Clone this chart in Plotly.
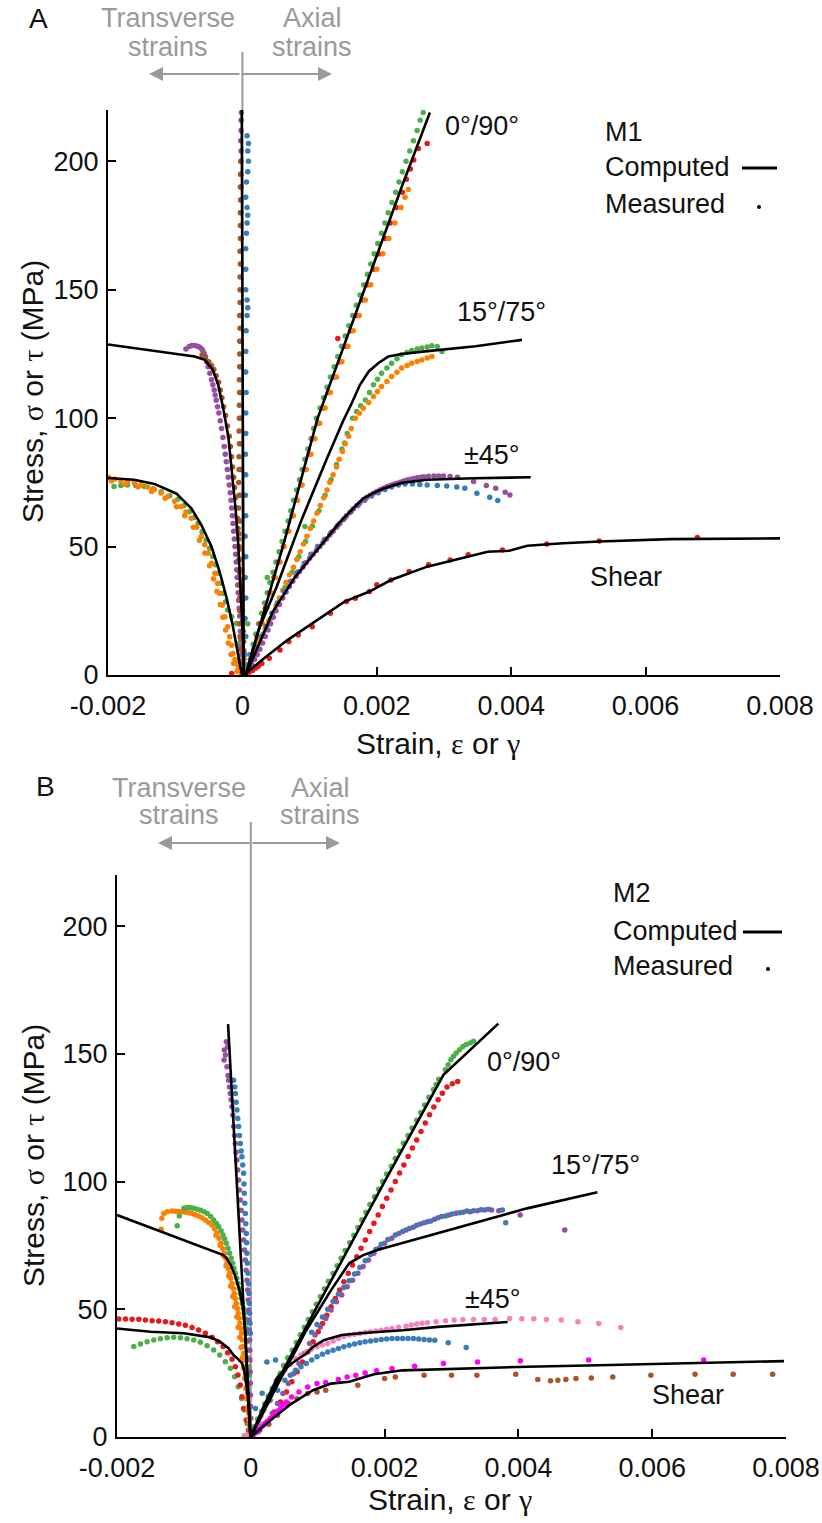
import plotly.graph_objects as go

W, H = 822, 1523
# Units: strain in millistrain (x 1e-3), stress in MPa.  Each series: list of (strain, stress)

# ---------------- Panel A (M1) ----------------
A_CALC_090 = [(0.05,0),(0.63,52.6),(1.12,100),(1.55,131),(1.96,160),(2.37,190),(2.79,219)]
A_CALC_1575 = [(0.05,0),(0.24,17.5),(0.51,34.4),(0.88,60.4),(1.25,83.8),(1.5,99),(1.63,106),(1.75,113),(1.88,118.2),
               (2.02,121.4),(2.17,124),(2.37,125),(2.72,126),(3.47,128),(4.16,130.5)]
A_CALC_45 = [(0.05,0),(0.21,10),(0.46,25),(0.78,38),(1.15,50),(1.45,59.5),(1.73,67),(1.8,68.8),(2.0,71.5),(2.1,72.6),
             (2.37,74.8),(2.75,76),(3.44,76.6),(4.29,77)]
A_CALC_SHEAR = [(0.0,0),(0.05,0.6),(0.29,5.8),(0.51,10.4),(0.67,13.6),(1.04,20.1),(1.52,28.6),(1.89,32.5),(2.21,37),
                (2.75,42.2),(3.17,45),(3.65,48),(3.97,48.4),(4.24,50.3),(4.77,51.3),(5.31,52),(6.37,52.9),(8.0,53.2)]
A_CALC_T1575 = [(-2.0,128.7),(-0.71,124),(-0.56,122.7),(-0.44,118.8),(-0.36,113),(-0.29,104.5),(-0.21,92.9),(-0.15,78.6),
                (-0.1,64.3),(-0.06,50),(-0.03,37),(-0.01,24),(0.01,12.3),(0.02,1.3)]
A_CALC_T45 = [(-2.0,76.7),(-1.61,76),(-1.31,74.4),(-1.06,71.4),(-0.98,70.6),(-0.91,68.8),(-0.76,64.9),(-0.61,58.4),
              (-0.46,50),(-0.34,40.3),(-0.24,30.5),(-0.15,20.1),(-0.09,11),(-0.04,4.5),(-0.01,0.6),(0.0,0)]
A_CALC_T090 = [(0.02,0),(-0.01,220)]

A_090_GREEN = [(0.07,4),(0.12,8),(0.16,12),(0.2,16),(0.24,20),(0.285,24),(0.33,28),(0.37,32),(0.41,36),(0.455,40),
               (0.5,44),(0.545,48),(0.59,52),(0.635,56),(0.68,60),(0.72,64),(0.76,68),(0.805,72),(0.85,76),(0.89,80),
               (0.93,84),(0.975,88),(1.02,92),(1.06,96),(1.1,100),(1.155,104),(1.21,108),(1.26,112),(1.31,116),(1.365,120),
               (1.42,124),(1.475,128),(1.53,132),(1.585,136),(1.64,140),(1.695,144),(1.75,148),(1.805,152),(1.86,156),
               (1.91,160),(1.96,164),(2.015,168),(2.07,172),(2.12,176),(2.17,180),(2.225,184),(2.28,188),(2.33,192),
               (2.38,196),(2.435,200),(2.49,204),(2.545,208),(2.6,212),(2.645,216),(2.69,219),(0.37,38),(0.08,20)]
A_090_RED = [(0.08,2),(0.12,6),(0.17,10),(0.22,15),(0.27,20),(0.34,26),(0.41,32),(0.47,38),(0.54,44),(0.61,50),
             (0.68,56),(0.74,62),(0.81,68),(0.87,74),(0.93,80),(0.99,86),(1.05,92),(1.12,98),(1.2,104),(1.28,110),
             (1.36,116),(1.45,122),(1.53,128),(1.61,134),(1.69,140),(1.78,146),(1.86,152),(1.95,158),(2.03,164),
             (2.12,170),(2.2,176),(2.29,182),(2.38,188),(2.44,193),(2.5,197),(2.55,200.5),(2.62,205),(2.75,207),(1.42,131)]
A_090_ORANGE = [(0.12,3),(0.17,8),(0.23,14),(0.3,20),(0.36,26),(0.43,32),(0.49,38),(0.56,44),(0.62,50),(0.69,56),
                (0.76,62),(0.82,68),(0.89,74),(0.95,80),(1.02,86),(1.08,92),(1.15,98),(1.23,104),(1.31,110),(1.4,116),
                (1.48,122),(1.57,128),(1.65,134),(1.74,140),(1.83,146),(1.91,152),(2.0,158),(2.09,164),(2.18,170),
                (2.27,176),(2.36,182),(2.42,186),(2.47,189)]
A_1575_GREEN = [(0.12,5),(0.21,10),(0.31,16),(0.42,22),(0.53,28),(0.63,34),(0.74,40),(0.84,46),(0.94,52),(1.04,58),
                (1.14,64),(1.23,70),(1.32,76),(1.4,82),(1.48,88),(1.56,94),(1.64,100),(1.7,102.6),(1.76,104.8),
                (1.83,107.1),(1.89,110),(1.95,113),(2.01,115.2),(2.07,117.5),(2.15,119.5),(2.22,121.4),(2.3,123.1),
                (2.37,124.7),(2.45,125.6),(2.52,126.4),(2.6,126.9),(2.67,127.3),(2.75,127.7),(2.82,128.2),(2.9,127.9),
                (2.97,126),(0.93,57.8),(1.52,90.3)]
A_1575_ORANGE = [(0.08,3),(0.15,7),(0.24,12),(0.29,15),(0.34,18),(0.39,21),(0.445,24),(0.5,27),(0.55,30),(0.6,33),
                 (0.65,36),(0.7,39),(0.76,42),(0.81,45),(0.86,48),(0.91,51),(0.96,54),(1.01,57),(1.06,60),(1.11,63),
                 (1.16,66),(1.21,69),(1.26,72),(1.3,75),(1.35,78),(1.4,81),(1.44,84),(1.49,87),(1.53,90),(1.58,93),
                 (1.62,96),(1.68,100),(1.74,101.9),(1.8,103.9),(1.88,106.1),(1.95,108.4),(2.01,110.4),(2.07,112.3),
                 (2.15,114.3),(2.22,116.2),(2.3,117.9),(2.37,119.5),(2.45,120.5),(2.52,121.4),(2.6,122.1),(2.67,122.7),
                 (2.75,123.4),(2.82,124)]
A_45_PURPLE = [(0.1,2),(0.14,4),(0.18,6),(0.22,8),(0.26,10),(0.3,12.5),(0.34,15),(0.38,17.5),(0.42,20),(0.46,22.5),
               (0.5,25),(0.55,27.5),(0.6,30),(0.65,32.3),(0.7,34.5),(0.75,36.5),(0.8,38.5),(0.85,40.3),(0.9,42),
               (0.95,43.8),(1.0,45.5),(1.05,47),(1.1,48.5),(1.15,50),(1.2,51.5),(1.25,53),(1.3,54.5),(1.35,56),
               (1.4,57.5),(1.45,59),(1.5,60.5),(1.55,62),(1.6,63.3),(1.65,64.7),(1.7,66),(1.75,67.1),(1.8,68.2),
               (1.85,69.1),(1.9,70),(1.95,70.8),(2.0,71.5),(2.05,72.1),(2.1,72.7),(2.15,73.3),(2.2,73.8),(2.25,74.3),
               (2.3,74.7),(2.35,75.1),(2.4,75.5),(2.45,75.9),(2.5,76.2),(2.55,76.5),(2.6,76.8),(2.65,77),(2.7,77.2),
               (2.77,77.4),(2.85,77.5),(2.92,77.5),(2.99,77.5),(3.09,77.3),(3.2,77),(3.44,75.3),(3.63,73.8),(3.77,72.7),
               (3.91,71.2),(3.98,70.1)]
A_45_BLUE = [(0.06,4),(0.12,8),(0.2,11),(0.28,15),(0.36,19),(0.44,24),(0.52,28),(0.62,32.5),(0.72,36.5),(0.82,40),
             (0.92,43.5),(1.02,47),(1.12,50),(1.22,52.8),(1.32,55.5),(1.42,58.3),(1.52,61),(1.62,63.7),(1.72,66),
             (1.82,68),(1.92,69.7),(2.02,71),(2.12,72.2),(2.22,73.2),(2.32,74),(2.42,74.4),(2.53,74.4),(2.64,74.2),
             (2.75,74),(2.9,73.8),(3.04,73.6),(3.19,73.2),(3.31,72.7),(3.49,70.8),(3.68,69.2),(3.8,67.9)]
A_SHEAR_RED = [(-0.16,0.6),(0.02,0.2),(0.06,0.6),(0.1,1.1),(0.15,1.8),(0.2,2.7),(0.24,3.5),(0.29,4.5),(0.4,6.5),
               (0.56,9.7),(0.69,13),(0.83,15.6),(1.04,18.8),(1.31,24),(1.55,28.6),(1.68,29.9),(1.89,32.5),(2.0,35.1),
               (2.21,37),(2.48,40.3),(2.77,42.9),(3.09,44.8),(3.36,46.8),(3.87,48.7),(4.53,51),(5.31,52.2),(6.77,53.5)]
A_T1575_PURPLE = [(-0.84,126.9),(-0.79,127.9),(-0.75,128.3),(-0.71,128.3),(-0.67,128),(-0.64,127.7),(-0.61,127),
                  (-0.59,126.4),(-0.57,125.2),(-0.55,124),(-0.53,122),(-0.51,120),(-0.485,117.5),(-0.46,115),(-0.44,113),
                  (-0.42,111),(-0.405,109),(-0.39,107),(-0.37,104.5),(-0.35,102),(-0.33,99),(-0.31,96),(-0.29,92.5),
                  (-0.27,89),(-0.255,86),(-0.24,83),(-0.225,80),(-0.21,77),(-0.195,74),(-0.18,71),(-0.17,68),(-0.16,65),
                  (-0.15,62),(-0.14,59),(-0.13,56),(-0.12,53),(-0.11,50),(-0.1,47),(-0.092,44),(-0.085,41),(-0.078,38),
                  (-0.07,35),(-0.062,32),(-0.055,29),(-0.048,26),(-0.04,23),(-0.035,20),(-0.03,17),(-0.025,14),
                  (-0.02,11),(-0.015,8),(-0.01,5),(0.0,1)]
A_T1575_BROWN = [(-0.6,124.6),(-0.55,123.3),(-0.5,122),(-0.46,120.5),(-0.425,119),(-0.39,116.5),(-0.355,114),(-0.33,111),
                 (-0.305,108),(-0.28,104.5),(-0.25,101),(-0.222,97),(-0.195,93),(-0.178,89),(-0.162,85),(-0.146,81),
                 (-0.13,77),(-0.116,73),(-0.102,69),(-0.089,65),(-0.076,61),(-0.065,57),(-0.054,53),(-0.044,49),
                 (-0.034,45),(-0.025,41),(-0.017,37),(-0.011,33),(-0.005,29),(0.0,25),(0.006,21),(0.012,17),(0.018,13),
                 (0.02,9.5),(0.022,6)]
A_T45_ORANGE = [(-1.99,77),(-1.9,76.3),(-1.81,75.7),(-1.71,75.3),(-1.61,74.9),(-1.51,74.1),(-1.41,73.2),(-1.31,72.2),
                (-1.21,70.9),(-1.11,69.5),(-1.01,67.7),(-0.91,65.6),(-0.84,63.5),(-0.76,61),(-0.68,57.5),(-0.61,53.9),
                (-0.56,50.7),(-0.51,47.4),(-0.46,43.5),(-0.41,39.6),(-0.37,35.7),(-0.34,31.8),(-0.3,27.2),(-0.26,22.7),
                (-0.22,18.8),(-0.19,14.9),(-0.16,11.6),(-0.14,8.4),(-0.11,6),(-0.09,4.5),(-0.06,2.8),(-0.04,1.9),
                (-0.02,0.8),(-1.95,75.5),(-1.75,74.3),(-1.55,73.2),(-1.35,71.5),(-1.15,68.8),(-0.98,65.5),(-0.86,62),
                (-0.73,57.5),(-0.64,52.5),(-0.56,47.5),(-0.49,42.5),(-0.43,37.5),(-0.38,32.5),(-0.33,27.5),(-0.29,22.5),
                (-0.25,17.5),(-0.21,12.5),(-0.17,8),(-0.13,4.5),(-0.08,1.5)]
A_T45_GREEN = [(-1.91,73.4),(-1.81,73.8),(-1.71,74),(-1.59,73.8),(-1.46,73.4),(-1.33,72.5),(-1.21,71.4),(-1.08,69.8),
               (-0.96,68.4),(-0.87,66),(-0.79,63.6),(-0.72,61.3),(-0.66,59.1),(-0.6,55.8),(-0.54,52.6),(-0.49,49.4),
               (-0.44,46.1),(-0.4,42.9),(-0.36,39.6),(-0.32,35.7),(-0.29,31.8),(-0.25,28.5),(-0.22,25.3),(-0.16,22.7),
               (-0.09,20.1),(-0.06,12.3),(-0.04,5.8)]
A_T090_PURPLE = [(-0.02,60),(-0.02,70),(-0.025,80),(-0.025,90),(-0.025,100),(-0.03,110),(-0.03,120),(-0.025,130),
                 (-0.03,140),(-0.025,150),(-0.02,160),(-0.025,165),(-0.02,170),(-0.025,175),(-0.02,180),(-0.025,185),
                 (-0.02,190),(-0.025,195),(-0.02,200),(-0.02,204),(-0.025,208),(-0.02,212),(-0.02,216),(-0.015,219)]
A_T090_BROWN = [(-0.03,5),(-0.035,10),(-0.035,15),(-0.04,20),(-0.04,25),(-0.04,30),(-0.045,35),(-0.045,40),(-0.05,45),
                (-0.05,50),(-0.05,55),(-0.055,60),(-0.055,65),(-0.05,70),(-0.055,75),(-0.05,80),(-0.05,85),(-0.045,90),
                (-0.05,95),(-0.045,100),(-0.045,105),(-0.04,110),(-0.045,115),(-0.04,120),(-0.04,125),(-0.04,130),
                (-0.035,135),(-0.04,140),(-0.035,145),(-0.035,150),(-0.035,155),(-0.03,160),(-0.035,165),(-0.03,170),
                (-0.03,175),(-0.03,180),(-0.025,185),(-0.03,190),(-0.025,195),(-0.025,200)]
A_T090_BLUE = [(0.05,2),(0.04,8),(0.05,15),(0.04,22),(0.05,30),(0.04,38),(0.05,46),(0.04,54),(0.05,62),(0.045,70),
               (0.05,78),(0.045,86),(0.05,94),(0.05,102),(0.055,110),(0.05,118),(0.05,126),(0.055,134),(0.07,140),
               (0.08,143),(0.07,146),(0.05,150),(0.05,158),(0.05,166),(0.06,172),(0.07,176),(0.08,179),(0.07,182),
               (0.05,186),(0.06,192),(0.08,196),(0.09,200),(0.08,204),(0.09,207),(0.07,210)]

# ---------------- Panel B (M2) ----------------
B_CALC_090 = [(0,0),(0.3,17),(1.0,51.5),(2.0,100),(2.88,141.8),(3.17,149),(3.7,161.8)]
B_CALC_1575 = [(0,0),(0.4,20.5),(0.83,41.8),(1.2,57.5),(1.47,68),(1.68,71.2),(1.89,73.2),(2.53,77.8),(3.07,81.7),
               (3.6,85.6),(4.13,89.5),(5.18,95.8)]
B_CALC_45 = [(0,0),(0.19,11.8),(0.4,23.5),(0.61,28.8),(0.83,32.7),(0.93,35.3),(1.09,37.9),(1.36,39.9),(1.73,40.8),
             (2.27,41.8),(2.8,43.1),(3.33,44.2),(3.84,45)]
B_CALC_SHEAR = [(0,0),(0.29,6.5),(0.61,13.1),(0.93,18.3),(1.2,20.9),(1.47,21.6),(1.63,22.9),(1.84,24.6),(2.27,26.1),
                (3.07,26.8),(4.13,27.5),(5.2,28.1),(6.27,28.8),(7.97,29.7)]
B_CALC_T090 = [(0,0),(-0.34,161.6)]
B_CALC_T1575 = [(-2.0,86.9),(-0.41,71.2),(-0.36,69.9),(-0.3,67.3),(-0.23,62.8),(-0.17,57.5),(-0.12,51),(-0.08,40.6),
                (-0.06,27.5),(-0.04,14.5),(-0.01,1.4),(0,0)]
B_CALC_T45 = [(-2.0,42.5),(-1.5,41.2),(-1.0,40.6),(-0.6,39),(-0.46,37.3),(-0.33,34.7),(-0.26,32.1),(-0.2,30.8),
              (-0.13,28.8),(-0.1,26.2),(-0.07,21),(-0.04,14.5),(-0.01,1.4),(0,0)]

B_090_GREEN = [(0.05,4),(0.1,7),(0.16,10),(0.21,13),(0.26,16),(0.32,19),(0.38,22),(0.44,25),(0.49,28),(0.55,31),
               (0.62,34),(0.68,37),(0.74,40),(0.8,43),(0.86,46),(0.92,49),(0.98,52),(1.04,55),(1.1,58),(1.16,61),
               (1.23,64),(1.29,67),(1.35,70),(1.41,73),(1.48,76),(1.54,79),(1.6,82),(1.66,85),(1.72,88),(1.78,91),
               (1.85,94),(1.91,97),(1.97,100),(2.03,103),(2.1,106),(2.16,109),(2.22,112),(2.28,115),(2.35,118),
               (2.41,121),(2.48,124),(2.54,127),(2.6,130),(2.66,133),(2.73,136),(2.77,138),(2.81,140),(2.91,143.8),
               (2.95,145.7),(2.99,147.7),(3.03,149),(3.07,150.3),(3.12,151.6),(3.17,152.9),(3.22,153.6),(3.28,154.2),
               (3.33,154.9)]
B_090_RED = [(3.093,139.2),(3.013,138.3),(2.933,137.0),(2.864,134.6),(2.8,132.0),(2.736,129.2),(2.672,126.1),
             (2.608,122.9),(2.544,119.6),(2.48,116.3),(2.416,113.1),(2.352,109.8),(2.288,106.5),(2.224,103.3),
             (2.16,100.0),(2.096,96.7),(2.032,93.5),(1.968,90.2),(1.904,86.9),(1.84,83.7),(1.776,80.4),(1.712,77.1),
             (1.648,73.9),(1.584,70.6),(1.52,67.3),(1.456,64.1),(1.392,60.8),(1.328,57.5),(1.264,54.2),(1.2,51.0),
             (1.136,47.7),(1.072,44.4),(1.008,41.2),(0.933,37.3),(0.853,33.3),(0.773,29.4),(0.693,25.5),(0.613,21.6),
             (0.533,17.6),(0.443,13.7),(0.347,9.8),(0.24,5.9),(0.133,2.6)]
B_1575_PURPLE = [(3.707,88.6),(3.6,88.9),(3.493,88.9),(3.387,88.6),(3.28,88.2),(3.173,88),(3.067,87.6),(2.96,86.9),
                 (2.853,86.3),(2.747,85.2),(2.64,84.3),(2.533,83.4),(2.427,82.1),(2.32,81),(2.213,79.7),(2.107,77.8),
                 (2.0,75.8),(1.92,73.9),(1.84,71.9),(1.76,69.3),(1.68,66.7),(1.6,64.1),(1.52,61.4),(1.44,58.8),
                 (1.36,55.6),(1.28,52.9),(1.2,49.7),(1.12,46.4),(1.04,43.1),(0.96,39.9),(0.88,36.6),(0.8,32.7),
                 (0.72,28.8),(0.64,24.8),(0.56,20.9),(0.48,17),(0.4,13.1),(0.32,9.2),(0.213,5.2),(0.107,2),
                 (4.693,81),(4.027,86.9)]
B_1575_BLUE = [(3.76,88.9),(3.81,83.9),(3.55,89.2),(3.44,89),(3.33,88.6),(3.23,88.5),(3.12,87.8),(3.01,87.3),
               (2.91,86.5),(2.8,85.8),(2.69,84.6),(2.59,83.9),(2.48,82.9),(2.37,81.6),(2.27,80.4),(2.16,79.1),
               (2.05,77.3),(1.95,75.5),(1.87,73.4),(1.79,71.4),(1.71,69),(1.63,66.4),(1.55,63.8),(1.47,61.2),
               (1.39,58.5),(1.31,56),(1.23,53),(1.15,50),(1.07,47),(0.99,44),(0.91,41)]
B_45_PINK = [(-0.1,0.5),(-0.06,0.8),(0.0,0.3),(0.05,1),(0.08,3),(0.11,5.5),(0.15,8),(0.19,10.5),(0.24,13.5),
             (0.29,16.5),(0.35,19.6),(0.42,22.5),(0.51,26.1),(0.59,28.5),(0.67,30.7),(0.75,32.1),(0.83,33.3),
             (0.91,34.4),(0.99,35.3),(1.07,36),(1.15,36.6),(1.23,37.6),(1.31,38.6),(1.39,39.3),(1.47,39.9),
             (1.55,40.2),(1.63,40.5),(1.71,40.9),(1.79,41.2),(1.87,41.5),(1.95,41.8),(2.03,42.2),(2.11,42.5),
             (2.21,43),(2.32,43.4),(2.4,43.8),(2.48,44.2),(2.56,44.5),(2.64,44.7),(2.77,45.1),(2.91,45.5),(3.04,45.8),
             (3.17,46),(3.33,46),(3.49,46),(3.65,46),(3.87,46.4),(4.05,46.3),(4.23,46.3),(4.42,46),(4.64,45.8),
             (4.89,45.1),(5.2,44.4),(5.53,42.9)]
B_45_BLUE = [(0.05,3),(0.12,6),(0.07,11.2),(0.19,10.5),(0.17,17.1),(0.29,14.4),(0.4,18.3),(0.51,22.2),(0.59,24.2),
             (0.67,26.1),(0.75,27.5),(0.83,28.8),(0.91,30.1),(0.99,31.4),(1.07,32.4),(1.15,33.3),(1.23,34),(1.31,34.6),
             (1.39,35.3),(1.47,35.9),(1.55,36.4),(1.63,36.9),(1.71,37.3),(1.79,37.6),(1.87,37.9),(1.95,38.2),
             (2.03,38.4),(2.11,38.6),(2.19,38.6),(2.27,38.6),(2.35,38.6),(2.43,38.6),(2.51,38.4),(2.59,38.2),
             (2.67,38),(2.75,37.9),(2.95,36.9),(3.22,35),(0.24,29.4),(0.37,30.1)]
B_SHEAR_MAGENTA = [(0.02,0.3),(0.05,1.3),(0.09,2.3),(0.13,3.3),(0.17,4.3),(0.21,5.2),(0.25,6.2),(0.29,7.2),(0.33,8.2),
                   (0.37,9.2),(0.41,10.3),(0.45,11.5),(0.49,12.6),(0.53,13.7),(0.61,15.7),(0.72,17.6),(0.85,19.6),
                   (0.99,20.9),(1.12,21.3),(1.31,22.5),(1.44,23.5),(1.57,24.2),(1.71,25.1),(1.88,25.9),(2.11,26.8),
                   (2.45,27.7),(2.88,28.8),(3.39,29.4),(4.03,29.8),(5.05,30.1),(6.77,30.1)]
B_SHEAR_BROWN = [(0.27,5),(0.4,8.5),(0.56,13.1),(0.69,15),(0.85,17),(0.99,17.6),(1.12,18.3),(1.6,20.3),(2.0,22.9),
                 (2.16,23.5),(2.59,24.2),(3.0,24.2),(3.38,24.2),(3.96,24.6),(4.29,22.5),(4.48,22),(4.59,22.2),
                 (4.71,22.5),(4.86,22.9),(5.09,23.1),(5.41,23.5),(5.98,24.2),(6.64,24.6),(7.21,24.6),(7.8,24.6)]
B_T090_PURPLE = [(-0.4,147.6),(-0.396,151.5),(-0.366,154.7),(-0.346,152.8),(-0.38,149.5),(-0.356,144.9),(-0.34,141.5),
                 (-0.331,139.7),(-0.318,137),(-0.306,134.5),(-0.294,132),(-0.281,129.3),(-0.268,126),(-0.256,121.5),
                 (-0.243,118),(-0.231,114.9),(-0.22,111.5),(-0.207,108.4),(-0.195,104.5),(-0.182,100.6),(-0.17,96.7),
                 (-0.157,92.8),(-0.145,88.8),(-0.132,84.9),(-0.12,81),(-0.107,77.1),(-0.095,73.2),(-0.082,69.3),
                 (-0.07,65.3),(-0.057,61.4),(-0.047,57.5),(-0.037,53.6),(-0.032,49.7),(-0.027,45.8),(-0.022,41.9),
                 (-0.017,38),(-0.014,34),(-0.012,30.1),(-0.01,25.5),(-0.007,21),(-0.004,16.4),(-0.002,11.9),(0.0,7.3),
                 (0.002,2.7)]
B_T090_BLUE = [(-0.256,139.7),(-0.24,137),(-0.231,134.5),(-0.219,131),(-0.207,128),(-0.195,124.7),(-0.182,121.5),
               (-0.17,118),(-0.157,114.9),(-0.145,112),(-0.132,109.7),(-0.12,106.5),(-0.107,103.2),(-0.102,99),
               (-0.097,95.4),(-0.09,91.5),(-0.082,87.5),(-0.075,83.5),(-0.067,79.7),(-0.062,76),(-0.057,71.9),
               (-0.05,68),(-0.042,64.1),(-0.035,60),(-0.027,56.2),(-0.022,52.3),(-0.017,48.4),(-0.012,44.5),(-0.007,40.6)]
B_T1575_ORANGE = [(-1.33,85.6),(-1.3,87.5),(-1.25,88.2),(-1.18,88.5),(-1.13,88.4),(-1.08,88.3),(-1.03,88.2),(-0.98,88.1),
                  (-0.93,87.8),(-0.88,87.5),(-0.83,87),(-0.78,86.5),(-0.73,85.8),(-0.68,84.9),(-0.63,84),(-0.58,83),
                  (-0.54,81.4),(-0.505,79.7),(-0.475,77.8),(-0.445,75.8),(-0.42,73.8),(-0.396,71.9),(-0.376,70),
                  (-0.356,68),(-0.336,66),(-0.316,64.1),(-0.3,62.1),(-0.281,60.1),(-0.263,58.1),(-0.246,56.2),
                  (-0.231,54.2),(-0.216,52.3),(-0.2,50.3),(-0.187,48.4),(-0.174,46.5),(-0.162,44.5),(-0.15,42.5),
                  (-0.137,40.6),(-0.127,38),(-0.117,35.4),(-0.107,32.7),(-0.097,30.1),(-0.087,27.5),(-0.077,24.9),
                  (-0.067,22.3),(-0.057,19.7),(-0.05,17.1),(-0.042,14.5),(-0.035,11.9),(-0.027,9.3),(-0.02,6.6),
                  (-0.012,4),(-0.005,1.5),(-1.34,81.3),(-0.52,79),(-0.46,75),(-0.41,71),(-0.37,67),(-0.33,63),(-0.3,59),
                  (-0.27,55),(-0.24,51),(-0.21,47),(-0.19,43),(-0.165,39),(-0.145,35),(-0.125,31),(-0.11,27),(-0.09,23),
                  (-0.075,19),(-0.06,15),(-0.045,11),(-0.03,7),(-0.015,3)]
B_T1575_GREEN = [(-1.1,82.7),(-1.07,86.5),(-1.0,89.5),(-0.96,89.7),(-0.93,89.8),(-0.89,89.7),(-0.85,89.5),(-0.8,89.2),
                 (-0.75,88.8),(-0.7,88.2),(-0.65,87.5),(-0.6,86.3),(-0.555,84.9),(-0.515,83.6),(-0.48,82.3),
                 (-0.445,80.7),(-0.415,79.1),(-0.39,77.5),(-0.366,75.8),(-0.34,73.9),(-0.316,71.9),(-0.293,70),
                 (-0.271,68),(-0.25,66),(-0.231,64.1),(-0.21,62.1),(-0.192,60.1),(-0.175,58.1),(-0.157,56.2),
                 (-0.142,54.2),(-0.127,52.3),(-0.112,50.3),(-0.097,48.4),(-0.087,46.4),(-0.077,44.5),(-0.067,42.5),
                 (-0.057,40.6),(-0.05,37.4),(-0.042,34.1),(-0.035,30.8),(-0.027,27.5),(-0.02,24.2),(-0.012,21)]
B_T45_RED = [(-1.973,46.2),(-1.873,46.2),(-1.774,46.1),(-1.674,46.1),(-1.575,45.8),(-1.475,45.5),(-1.376,45.4),
             (-1.276,45.1),(-1.177,44.7),(-1.077,44.2),(-0.978,43.7),(-0.878,42.9),(-0.779,41.9),(-0.679,40.6),
             (-0.58,39),(-0.495,37.3),(-0.415,35.4),(-0.346,33),(-0.281,30.4),(-0.231,27.5),(-0.192,24.3),
             (-0.157,20.4),(-0.132,15.8),(-0.107,11.2),(-0.067,6.7),(-0.032,2.7)]
B_T45_GREEN = [(-1.749,35.4),(-1.649,36.4),(-1.55,37.3),(-1.45,38),(-1.351,38.5),(-1.251,38.9),(-1.152,39),
               (-1.052,38.9),(-0.953,38.5),(-0.853,38),(-0.754,37.1),(-0.654,35.7),(-0.555,34.1),(-0.465,32.1),
               (-0.381,29.5),(-0.306,26.9),(-0.241,23.6),(-0.187,19.7),(-0.137,15.1),(-0.097,10.6),(-0.057,5.3),
               (-0.022,1.4)]

COL = dict(green="#4daf4a", red="#e41a1c", orange="#ff7f00", purple="#984ea3", blue="#377eb8",
           brown="#a65628", pink="#f781bf", magenta="#ff00ff")

A_MEAS = [(A_T45_GREEN, "green"), (A_T45_ORANGE, "orange"), (A_T1575_PURPLE, "purple"), (A_T1575_BROWN, "brown"),
          (A_T090_PURPLE, "purple"), (A_T090_BROWN, "brown"), (A_T090_BLUE, "blue"),
          (A_090_GREEN, "green"), (A_090_RED, "red"), (A_090_ORANGE, "orange"),
          (A_1575_GREEN, "green"), (A_1575_ORANGE, "orange"), (A_45_BLUE, "blue"), (A_45_PURPLE, "purple"),
          (A_SHEAR_RED, "red")]
A_CALC = [A_CALC_090, A_CALC_1575, A_CALC_45, A_CALC_SHEAR, A_CALC_T1575, A_CALC_T45, A_CALC_T090]
B_MEAS = [(B_T45_GREEN, "green"), (B_T45_RED, "red"), (B_T1575_ORANGE, "orange"), (B_T1575_GREEN, "green"),
          (B_T090_PURPLE, "purple"), (B_T090_BLUE, "blue"),
          (B_090_GREEN, "green"), (B_090_RED, "red"), (B_1575_PURPLE, "purple"), (B_1575_BLUE, "blue"),
          (B_45_BLUE, "blue"), (B_45_PINK, "pink"), (B_SHEAR_BROWN, "brown"), (B_SHEAR_MAGENTA, "magenta")]
B_CALC = [B_CALC_090, B_CALC_1575, B_CALC_45, B_CALC_SHEAR, B_CALC_T090, B_CALC_T1575, B_CALC_T45]

X_TICKVALS = [-2, 0, 2, 4, 6, 8]
X_TICKTEXT = ["-0.002", "0", "0.002", "0.004", "0.006", "0.008"]
Y_TICKVALS = [0, 50, 100, 150, 200]
Y_TICKTEXT = ["0", "50", "100", "150", "200"]

FONT = "Liberation Sans, Arial, Helvetica, sans-serif"
FS = 27
FS_TITLE = 30
TXT = "#111111"
GRAY = "#9a9a9a"

fig = go.Figure()

def add_panel(meas, calc, xa, ya):
    for series, c in meas:
        fig.add_trace(go.Scatter(x=[p[0] for p in series], y=[p[1] for p in series], mode="markers",
                                 marker=dict(size=5.5, color=COL[c], line=dict(width=0)),
                                 xaxis=xa, yaxis=ya, showlegend=False, hoverinfo="skip"))
    for series in calc:
        fig.add_trace(go.Scatter(x=[p[0] for p in series], y=[p[1] for p in series], mode="lines",
                                 line=dict(color="black", width=2.6),
                                 xaxis=xa, yaxis=ya, showlegend=False, hoverinfo="skip"))

add_panel(A_MEAS, A_CALC, "x", "y")
add_panel(B_MEAS, B_CALC, "x2", "y2")

def px(v):
    return v / W

def py(v):
    return 1 - v / H

axis_common = dict(showline=True, linecolor="black", linewidth=2, ticks="inside", ticklen=8, tickwidth=2,
                   tickcolor="black", showgrid=False, zeroline=False, mirror=False, automargin=False,
                   tickfont=dict(family=FONT, size=FS, color=TXT))

fig.update_layout(
    width=W, height=H, margin=dict(l=0, r=0, t=0, b=0, autoexpand=False),
    paper_bgcolor="white", plot_bgcolor="white", showlegend=False,
    xaxis=dict(domain=[px(108), px(780)], range=[-2, 8], anchor="y", tickvals=X_TICKVALS, ticktext=X_TICKTEXT,
               ticklabelstandoff=6, **axis_common),
    yaxis=dict(domain=[py(675), py(110)], range=[0, 220], anchor="x", tickvals=Y_TICKVALS, ticktext=Y_TICKTEXT,
               ticklabelstandoff=2, **axis_common),
    xaxis2=dict(domain=[px(117), px(786)], range=[-2, 8], anchor="y2", tickvals=X_TICKVALS, ticktext=X_TICKTEXT,
                ticklabelstandoff=6, **axis_common),
    yaxis2=dict(domain=[py(1437), py(875)], range=[0, 220], anchor="x2", tickvals=Y_TICKVALS, ticktext=Y_TICKTEXT,
                ticklabelstandoff=2, **axis_common),
)

shapes = []
ann = []

def text(x, y, s, color=TXT, xanchor="center", size=FS, angle=0):
    ann.append(dict(x=px(x), y=py(y), xref="paper", yref="paper", text=s, showarrow=False, xanchor=xanchor,
                    yanchor="middle", textangle=angle, font=dict(family=FONT, size=size, color=color)))

GREEK = "<span style='font-family:Liberation Serif, DejaVu Serif, serif'>%s</span>"

for (xref, ybot, ytop, arr_y, ltip, rtip, x0px, lab, lab_x, lab_y, t_y1, t_y2, tx,
     m_name, m_x, m_y, leg_line, dot, curves, xt_x, xt_y, yt_y) in [
    ("x", 675, 52, 74, 149, 332, 241, "A", 38, 19, 18, 47, (168, 312),
     "M1", 603, 132, (742, 777, 168), (759, 207),
     [("0°/90°", 443, 126), ("15°/75°", 455, 312), ("±45°", 462, 455), ("Shear", 588, 577)], 438, 743, 392),
    ("x2", 1437, 822, 843, 158, 340, 251, "B", 45, 786, 788, 815, (179, 320),
     "M2", 611, 893, (743, 782, 932), (768, 969),
     [("0°/90°", 485, 1062), ("15°/75°", 549, 1165), ("±45°", 463, 1299), ("Shear", 650, 1395)], 450, 1499, 1156),
]:
    shapes.append(dict(type="line", xref=xref, yref="paper", x0=0, x1=0, y0=py(ybot), y1=py(ytop),
                       line=dict(color=GRAY, width=2), layer="below"))
    ann.append(dict(x=px(ltip), y=py(arr_y), xref="paper", yref="paper", text="", showarrow=True,
                    ax=x0px - ltip, ay=0, arrowhead=2, arrowsize=1.4, arrowwidth=2, arrowcolor=GRAY))
    ann.append(dict(x=px(rtip), y=py(arr_y), xref="paper", yref="paper", text="", showarrow=True,
                    ax=x0px - rtip, ay=0, arrowhead=2, arrowsize=1.4, arrowwidth=2, arrowcolor=GRAY))
    text(tx[0], t_y1, "Transverse", color=GRAY)
    text(tx[0], t_y2, "strains", color=GRAY)
    text(tx[1], t_y1, "Axial", color=GRAY)
    text(tx[1], t_y2, "strains", color=GRAY)
    text(lab_x, lab_y, lab, size=28)
    text(m_x, m_y, m_name, xanchor="left")
    text(m_x, leg_line[2] - 1, "Computed", xanchor="left")
    text(m_x, dot[1] - 3, "Measured", xanchor="left")
    shapes.append(dict(type="line", xref="paper", yref="paper", x0=px(leg_line[0]), x1=px(leg_line[1]),
                       y0=py(leg_line[2]), y1=py(leg_line[2]), line=dict(color="black", width=3)))
    shapes.append(dict(type="circle", xref="paper", yref="paper", x0=px(dot[0] - 2), x1=px(dot[0] + 2),
                       y0=py(dot[1] + 2), y1=py(dot[1] - 2), fillcolor="black", line=dict(width=0)))
    for s, cx, cy in curves:
        text(cx, cy, s, xanchor="left")
    text(xt_x, xt_y, "Strain, " + GREEK % "ε" + " or " + GREEK % "γ", size=FS_TITLE)
    text(33, yt_y, "Stress, " + GREEK % "σ" + " or " + GREEK % "τ" + " (MPa)", angle=-90, size=FS_TITLE)

fig.update_layout(shapes=shapes, annotations=ann)
fig.write_html("out.html")
